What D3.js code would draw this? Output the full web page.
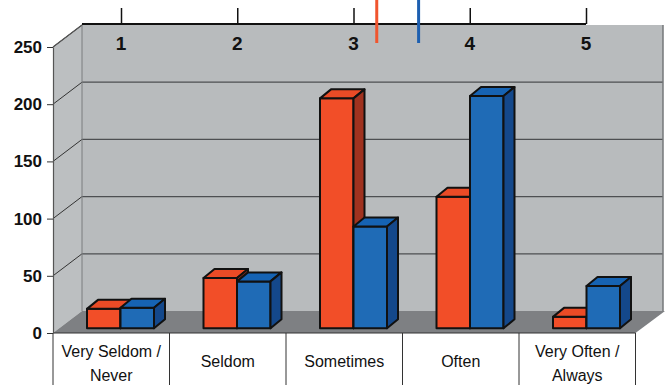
<!DOCTYPE html>
<html>
<head>
<meta charset="utf-8">
<script src="https://cdn.jsdelivr.net/npm/d3@7"></script>
<style>
html,body{margin:0;padding:0;background:#fff;}
svg{display:block;}
</style>
</head>
<body>
<svg id="chart" width="666" height="385"></svg>
<script>
// ---- data ----
const categories = ["Very Seldom / Never", "Seldom", "Sometimes", "Often", "Very Often / Always"];
const categoryLines = [["Very Seldom /", "Never"], ["Seldom"], ["Sometimes"], ["Often"], ["Very Often /", "Always"]];
const seriesNames = ["Series A", "Series B"];
const seriesA = [17, 44, 201, 115, 10];
const seriesB = [18, 41, 89, 203, 37];
const yTicks = [0, 50, 100, 150, 200, 250];
const scaleTicks = [1, 2, 3, 4, 5];
const meanValues = [3.2, 3.56];

// ---- styles ----
const colors = [
  {front: "#f24e28", top: "#ea4b26", side: "#a0321f"},
  {front: "#1f6bb6", top: "#1663b3", side: "#14488b"}
];
const mean_colors = ["#f0552e", "#1d5fb0"];

const svg = d3.select("#chart");
const x = d3.scaleBand().domain(d3.range(categories.length)).range([53, 635.5]);
const xSub = d3.scaleBand().domain(d3.range(seriesNames.length)).range([34, 101]);
const y = d3.scaleLinear().domain([0, 250]).range([333, 47]);
const xTop = d3.scaleLinear().domain([1, 5]).range([121, 586]);

const wdx = 29, wdy = 22;      // wall depth
const bdx = 11, bdy = 9;       // bar depth
const bOff = 4.7;              // bar plane offset
const wallRight = 663;

// side wall (left)
svg.append("path")
  .attr("d", `M53,${y(0)} L53,${y(250)} L${53+wdx},${y(250)-wdy} L${53+wdx},${y(0)-wdy} Z`)
  .attr("fill", "#bcbfc1");
// back wall
svg.append("rect")
  .attr("x", 53 + wdx).attr("y", y(250) - wdy)
  .attr("width", wallRight - 53 - wdx).attr("height", y(0) - y(250))
  .attr("fill", "#b8bbbd");
// floor
svg.append("path")
  .attr("d", `M53,${y(0)} L${53+wdx},${y(0)-wdy} L${wallRight+2},${y(0)-wdy} L${635.5},${y(0)} Z`)
  .attr("fill", "#7e8083");

// back gridlines
svg.append("g").selectAll("line").data(yTicks.filter(d => d > 0 && d < 250)).join("line")
  .attr("x1", 53 + wdx).attr("x2", wallRight)
  .attr("y1", d => y(d) - wdy).attr("y2", d => y(d) - wdy)
  .attr("stroke", "#4d4f52").attr("stroke-width", 1.2);
// side-wall diagonal gridlines
svg.append("g").selectAll("line").data(yTicks.filter(d => d > 0)).join("line")
  .attr("x1", 53).attr("x2", 53 + wdx)
  .attr("y1", d => y(d)).attr("y2", d => y(d) - wdy)
  .attr("stroke", "#333").attr("stroke-width", 1);
// back wall left edge and right edge
svg.append("line").attr("x1", 53 + wdx).attr("x2", 53 + wdx)
  .attr("y1", y(250) - wdy).attr("y2", y(0) - wdy)
  .attr("stroke", "#7a7c7f").attr("stroke-width", 1);
svg.append("line").attr("x1", wallRight).attr("x2", wallRight)
  .attr("y1", y(250) - wdy).attr("y2", y(0) - wdy)
  .attr("stroke", "#75777a").attr("stroke-width", 1.5);

// bars
const data = [seriesA, seriesB];
const gBars = svg.append("g");
categories.forEach((c, i) => {
  data.forEach((vals, s) => {
    const v = vals[i];
    const x0 = x(i) + xSub(s);
    const w = xSub.bandwidth();
    const base = y(0) - bOff;
    const top = y(v) - bOff;
    const col = colors[s];
    const g = gBars.append("g")
      .attr("stroke", "#111").attr("stroke-width", 2).attr("stroke-linejoin", "round");
    g.append("rect").attr("x", x0).attr("y", top).attr("width", w).attr("height", base - top)
      .attr("fill", col.front);
    g.append("path")
      .attr("d", `M${x0},${top} L${x0+bdx},${top-bdy} L${x0+w+bdx},${top-bdy} L${x0+w},${top} Z`)
      .attr("fill", col.top);
    g.append("path")
      .attr("d", `M${x0+w},${top} L${x0+w+bdx},${top-bdy} L${x0+w+bdx},${base-bdy} L${x0+w},${base} Z`)
      .attr("fill", col.side);
  });
});

// floor front edge
svg.append("line").attr("x1", 53).attr("x2", 635.5).attr("y1", y(0)).attr("y2", y(0))
  .attr("stroke", "#333").attr("stroke-width", 1);

// table
const boundaries = d3.range(categories.length).map(i => x(i)).concat([x(categories.length - 1) + x.bandwidth()]);
svg.append("g").selectAll("line").data(boundaries).join("line")
  .attr("x1", d => d).attr("x2", d => d).attr("y1", y(0)).attr("y2", 385)
  .attr("stroke", "#333").attr("stroke-width", 1);
const gLab = svg.append("g")
  .attr("font-family", "'Liberation Sans', Arial, sans-serif")
  .attr("font-size", 16).attr("fill", "#111").attr("text-anchor", "middle");
categoryLines.forEach((lines, i) => {
  const cx = x(i) + x.bandwidth() / 2;
  if (lines.length === 1) {
    gLab.append("text").attr("x", cx).attr("y", 367).text(lines[0]);
  } else {
    gLab.append("text").attr("x", cx).attr("y", 357).text(lines[0]);
    gLab.append("text").attr("x", cx).attr("y", 381).text(lines[1]);
  }
});

// left axis
const yAxis = svg.append("g").attr("transform", "translate(53,0)")
  .call(d3.axisLeft(y).tickValues(yTicks).tickSize(6).tickSizeOuter(0).tickPadding(5));
yAxis.select(".domain").attr("stroke", "#555").attr("stroke-width", 1.2);
yAxis.selectAll(".tick line").attr("stroke", "#333");
yAxis.selectAll(".tick text")
  .attr("font-family", "'Liberation Sans', Arial, sans-serif")
  .attr("font-size", 17).attr("font-weight", "bold").attr("fill", "#111");
// side wall top edge
svg.append("line").attr("x1", 53).attr("y1", y(250)).attr("x2", 53 + wdx).attr("y2", y(250) - wdy)
  .attr("stroke", "#555").attr("stroke-width", 1.2);

// top scale axis
const topY = y(250) - wdy - 1;
const topAxis = svg.append("g").attr("transform", `translate(0,${topY})`)
  .call(d3.axisTop(xTop).tickValues(scaleTicks).tickSize(16).tickSizeOuter(0).tickFormat(""));
topAxis.select(".domain").remove();
topAxis.selectAll(".tick line").attr("stroke", "#111").attr("stroke-width", 1.5);
svg.append("line").attr("x1", 53 + wdx).attr("x2", xTop(5)).attr("y1", topY).attr("y2", topY)
  .attr("stroke", "#111").attr("stroke-width", 2);
svg.append("g").selectAll("text").data(scaleTicks).join("text")
  .attr("x", d => xTop(d)).attr("y", 50)
  .attr("text-anchor", "middle")
  .attr("font-family", "'Liberation Sans', Arial, sans-serif")
  .attr("font-size", 19).attr("font-weight", "bold").attr("fill", "#111")
  .text(d => d);

// mean markers
svg.append("g").selectAll("line").data(meanValues).join("line")
  .attr("x1", d => xTop(d)).attr("x2", d => xTop(d))
  .attr("y1", 0).attr("y2", 43)
  .attr("stroke", (d, i) => mean_colors[i]).attr("stroke-width", 3);
</script>
</body>
</html>
